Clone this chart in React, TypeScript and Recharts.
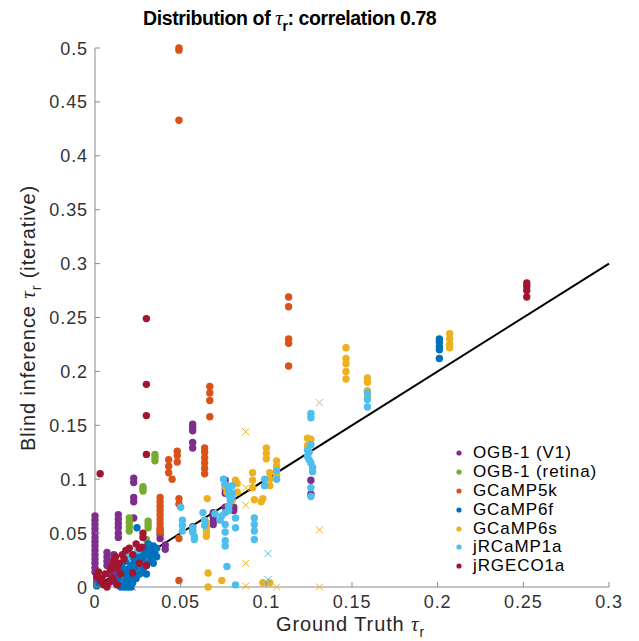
import { ScatterChart, Scatter, XAxis, YAxis, ReferenceLine, Legend } from 'recharts'

type Pt = [number, number]

const seriesNames = ['OGB-1 (V1)', 'OGB-1 (retina)', 'GCaMP5k', 'GCaMP6f', 'GCaMP6s', 'jRCaMP1a', 'jRGECO1a']
const seriesColors = ['#7E2F8E', '#77AC30', '#D95319', '#0072BD', '#EDB120', '#4DBEEE', '#A2142F']

const xTicks = [0, 0.05, 0.1, 0.15, 0.2, 0.25, 0.3]
const yTicks = [0, 0.05, 0.1, 0.15, 0.2, 0.25, 0.3, 0.35, 0.4, 0.45, 0.5]

const ogbV1: Pt[] = [
  [0, 0.066], [0, 0.062], [0, 0.058], [0, 0.054], [0, 0.05], [0, 0.046], [0, 0.042], [0, 0.038],
  [0, 0.034], [0, 0.03], [0, 0.026], [0, 0.022], [0, 0.018], [0, 0.014], [0.001, 0.004], [0.001, 0.008],
  [0.007, 0.032], [0.007, 0.028], [0.007, 0.024], [0.007, 0.02],
  [0.0136, 0.067], [0.0136, 0.063], [0.0136, 0.059], [0.0136, 0.055], [0.0136, 0.05], [0.0136, 0.046],
  [0.011, 0.03], [0.011, 0.026], [0.012, 0.022], [0.012, 0.016], [0.012, 0.01], [0.017, 0.028],
  [0.017, 0.024], [0.019, 0.032], [0.009, 0.012],
  [0.0226, 0.101], [0.0226, 0.097], [0.0226, 0.083], [0.0226, 0.079], [0.0226, 0.064],
  [0.038, 0.053], [0.038, 0.049], [0.038, 0.045], [0.041, 0.039], [0.041, 0.035],
  [0.057, 0.151], [0.057, 0.148], [0.057, 0.145], [0.057, 0.134], [0.057, 0.129], [0.057, 0.056], [0.057, 0.052],
  [0.069, 0.069], [0.069, 0.065], [0.069, 0.061], [0.069, 0.058],
  [0.076, 0.099], [0.076, 0.095], [0.076, 0.091], [0.076, 0.087], [0.076, 0.074],
  [0.081, 0.074], [0.081, 0.071], [0.126, 0.099], [0.126, 0.086],
]

const ogbRetina: Pt[] = [
  [0.035, 0.123], [0.035, 0.12], [0.035, 0.117], [0.028, 0.093], [0.028, 0.091], [0.028, 0.089],
  [0.02, 0.064], [0.02, 0.06], [0.02, 0.056], [0.02, 0.052], [0.031, 0.061], [0.031, 0.058],
  [0.031, 0.055], [0.03, 0.044], [0.031, 0.04],
]

const gcamp5k: Pt[] = [
  [0.049, 0.5], [0.049, 0.498], [0.049, 0.433],
  [0.113, 0.269], [0.113, 0.26], [0.113, 0.23], [0.113, 0.226], [0.113, 0.205],
  [0.067, 0.186], [0.067, 0.18], [0.067, 0.173], [0.067, 0.158],
  [0.064, 0.129], [0.064, 0.125], [0.064, 0.12], [0.064, 0.115], [0.064, 0.11], [0.064, 0.105],
  [0.048, 0.126], [0.048, 0.122], [0.048, 0.116], [0.043, 0.118], [0.043, 0.112], [0.043, 0.106], [0.045, 0.1],
  [0.038, 0.083], [0.038, 0.079], [0.038, 0.075], [0.038, 0.071], [0.038, 0.067], [0.038, 0.063],
  [0.038, 0.059], [0.038, 0.055], [0.038, 0.051],
  [0.049, 0.082], [0.049, 0.077], [0.049, 0.045], [0.049, 0.006],
]

const gcamp6f: Pt[] = [
  [0.201, 0.23], [0.201, 0.227], [0.201, 0.223], [0.201, 0.22], [0.201, 0.212],
  [0.012, 0.004], [0.014, 0.008], [0.016, 0.002], [0.017, 0.012], [0.018, 0.006], [0.019, 0.016],
  [0.02, 0.01], [0.021, 0.02], [0.022, 0.014], [0.023, 0.024], [0.024, 0.018], [0.025, 0.028],
  [0.026, 0.022], [0.027, 0.032], [0.028, 0.026], [0.029, 0.036], [0.03, 0.03], [0.031, 0.04],
  [0.032, 0.034], [0.033, 0.028], [0.034, 0.038], [0.035, 0.031], [0.036, 0.036], [0.016, 0.018],
  [0.018, 0.024], [0.02, 0.028], [0.022, 0.004], [0.024, 0.008], [0.026, 0.012], [0.028, 0.016],
  [0.03, 0.02], [0.032, 0.024], [0.019, 0.0], [0.017, 0.0], [0.001, 0.001], [0.002, 0.004],
  [0.0245, 0.055], [0.015, 0.0], [0.013, 0.002], [0.034, 0.022], [0.036, 0.028], [0.021, 0.0],
  [0.018, 0.014], [0.02, 0.004], [0.023, 0.01], [0.026, 0.03], [0.03, 0.012],
]
const gcamp6fMiss: Pt[] = [[0.0216, 0.0]]

const gcamp6s: Pt[] = [
  [0.0655, 0.082], [0.065, 0.059], [0.065, 0.055], [0.065, 0.051], [0.065, 0.047], [0.066, 0.013],
  [0.066, 0.0], [0.074, 0.006],
  [0.076, 0.093], [0.077, 0.088], [0.083, 0.096], [0.083, 0.088], [0.08, 0.08], [0.078, 0.075], [0.082, 0.099],
  [0.092, 0.106], [0.092, 0.099], [0.092, 0.092], [0.093, 0.081], [0.098, 0.082], [0.097, 0.079],
  [0.1, 0.129], [0.1, 0.124], [0.1, 0.119], [0.102, 0.106], [0.102, 0.1], [0.102, 0.094],
  [0.106, 0.117], [0.106, 0.112], [0.106, 0.104], [0.098, 0.004], [0.102, 0.004],
  [0.124, 0.138], [0.124, 0.131], [0.126, 0.137],
  [0.1465, 0.222], [0.1465, 0.212], [0.1465, 0.207], [0.1465, 0.2], [0.1465, 0.193],
  [0.159, 0.194], [0.159, 0.19], [0.159, 0.182], [0.159, 0.177],
  [0.207, 0.235], [0.207, 0.23], [0.207, 0.225], [0.207, 0.222],
]
const gcamp6sMiss: Pt[] = [
  [0.088, 0.144], [0.088, 0.092], [0.088, 0.076], [0.088, 0.022], [0.088, 0.001], [0.106, 0.0],
  [0.131, 0.171], [0.131, 0.053], [0.131, 0.0],
]

const jrcamp1a: Pt[] = [
  [0.05, 0.074], [0.051, 0.062], [0.051, 0.057], [0.051, 0.052], [0.057, 0.055], [0.057, 0.051],
  [0.058, 0.047], [0.058, 0.044], [0.063, 0.069], [0.064, 0.062], [0.064, 0.057], [0.07, 0.068],
  [0.073, 0.062], [0.074, 0.066], [0.076, 0.069], [0.076, 0.058], [0.076, 0.051], [0.076, 0.043],
  [0.076, 0.038], [0.075, 0.1], [0.076, 0.095], [0.078, 0.09], [0.078, 0.085], [0.079, 0.08],
  [0.078, 0.075], [0.078, 0.071], [0.08, 0.094], [0.08, 0.087], [0.08, 0.083],
  [0.082, 0.064], [0.082, 0.055], [0.077, 0.019], [0.082, 0.002],
  [0.093, 0.064], [0.093, 0.058], [0.093, 0.052], [0.093, 0.044],
  [0.099, 0.1], [0.099, 0.094], [0.106, 0.108], [0.106, 0.1],
  [0.126, 0.161], [0.126, 0.157], [0.126, 0.132], [0.125, 0.125], [0.124, 0.121], [0.125, 0.118],
  [0.126, 0.115], [0.127, 0.111], [0.127, 0.107], [0.126, 0.092], [0.126, 0.084], [0.124, 0.127],
  [0.159, 0.18], [0.159, 0.174], [0.159, 0.167],
  [0.019, 0.034], [0.019, 0.028], [0.025, 0.034],
]
const jrcamp1aMiss: Pt[] = [[0.101, 0.031], [0.101, 0.007]]

const jrgeco1a: Pt[] = [
  [0.03, 0.249], [0.03, 0.188], [0.03, 0.159], [0.03, 0.123], [0.003, 0.105],
  [0.252, 0.282], [0.252, 0.279], [0.252, 0.275], [0.252, 0.269],
  [0.001, 0.01], [0.002, 0.014], [0.004, 0.008], [0.006, 0.012], [0.008, 0.004], [0.009, 0.016],
  [0.01, 0.02], [0.011, 0.024], [0.012, 0.028], [0.013, 0.018], [0.014, 0.022], [0.015, 0.012],
  [0.016, 0.03], [0.017, 0.026], [0.018, 0.034], [0.02, 0.036], [0.022, 0.03], [0.024, 0.04],
  [0.026, 0.036], [0.028, 0.046], [0.028, 0.05], [0.0275, 0.037], [0.026, 0.022], [0.03, 0.02],
  [0.022, 0.013], [0.005, 0.002], [0.007, 0.0], [0.011, 0.006], [0.013, 0.002], [0.003, 0.006], [0.01, 0.008],
]

const allSeries = [ogbV1, ogbRetina, gcamp5k, gcamp6f, gcamp6s, jrcamp1a, jrgeco1a]
const misses: [number, Pt[]][] = [[3, gcamp6fMiss], [4, gcamp6sMiss], [5, jrcamp1aMiss]]

const toData = (pts: Pt[]) => pts.map(([x, y]) => ({ x, y }))

const axisGray = '#8a8a8a'
const tickFont = { fontFamily: 'Liberation Sans, Arial, sans-serif', fontSize: 18, letterSpacing: 0.9, fill: '#333' }

const XTick = (p: any) => (
  <g>
    <line x1={p.x} x2={p.x} y1={p.y} y2={p.y - 5} stroke={axisGray} />
    <text x={p.x} y={p.y + 21} textAnchor="middle" {...tickFont}>{p.payload.value}</text>
  </g>
)

const YTick = (p: any) => (
  <g>
    <line x1={p.x} x2={p.x + 5} y1={p.y} y2={p.y} stroke={axisGray} />
    <text x={p.x - 7} y={p.y + 6.5} textAnchor="end" {...tickFont}>{p.payload.value}</text>
  </g>
)

const dot = (color: string) => (p: any) => <circle cx={p.cx} cy={p.cy} r={3.7} fill={color} />
const cross = (color: string) => (p: any) => (
  <path d={`M${p.cx - 3.5},${p.cy - 3.5}L${p.cx + 3.5},${p.cy + 3.5}M${p.cx - 3.5},${p.cy + 3.5}L${p.cx + 3.5},${p.cy - 3.5}`}
    stroke={color} strokeWidth={1} fill="none" />
)

const LegendBox = () => (
  <div style={{ fontFamily: 'Liberation Sans, Arial, sans-serif', fontSize: 17, letterSpacing: 0.9, color: '#000' }}>
    {seriesNames.map((n, i) => (
      <div key={n} style={{ display: 'flex', alignItems: 'center', height: 18.8, whiteSpace: 'nowrap' }}>
        <svg width={14} height={10}><circle cx={7} cy={5} r={2.6} fill={seriesColors[i]} /></svg>
        <span style={{ marginLeft: 7 }}>{n}</span>
      </div>
    ))}
  </div>
)

const labelFont = { fontFamily: 'Liberation Sans, Arial, sans-serif', fontSize: 20, letterSpacing: 0.9, fill: '#262626' }
const tauFont = { fontFamily: 'Liberation Serif, serif', fontStyle: 'italic' as const }

export default function App() {
  return (
    <div>
      <style>{'body{margin:0}'}</style>
      <ScatterChart width={639} height={641} margin={{ top: 48, right: 30, left: 0, bottom: 0 }}>
        <XAxis type="number" dataKey="x" domain={[0, 0.3]} ticks={xTicks} height={54} tickSize={0} tickMargin={0}
          tick={<XTick />} axisLine={{ stroke: axisGray }} tickLine={false} interval={0} />
        <YAxis type="number" dataKey="y" domain={[0, 0.5]} ticks={yTicks} width={95} tickSize={0} tickMargin={0}
          tick={<YTick />} axisLine={{ stroke: axisGray }} tickLine={false} interval={0} />
        {allSeries.map((pts, i) => (
          <Scatter key={seriesNames[i]} name={seriesNames[i]} data={toData(pts)} fill={seriesColors[i]}
            shape={dot(seriesColors[i])} isAnimationActive={false} />
        ))}
        {misses.map(([i, pts]) => (
          <Scatter key={'miss' + i} data={toData(pts)} fill={seriesColors[i]} legendType="none"
            shape={cross(seriesColors[i])} isAnimationActive={false} />
        ))}
        <ReferenceLine segment={[{ x: 0, y: 0 }, { x: 0.3, y: 0.3 }]} stroke="#000" strokeWidth={2} />
        <Legend layout="vertical" align="center" verticalAlign="middle" content={<LegendBox />}
          wrapperStyle={{ left: 452, top: 444, width: 180 }} />
        <text x={143} y={25} fontFamily="Liberation Sans, Arial, sans-serif" fontSize={19.5} letterSpacing={-0.4}
          fontWeight="bold" fill="#000">
          Distribution of <tspan {...tauFont} fontSize={21} fontWeight="normal">τ</tspan>
          <tspan fontSize={14} dy={6}>r</tspan>
          <tspan dy={-6}>: correlation 0.78</tspan>
        </text>
        <text x={276} y={631} {...labelFont}>
          Ground Truth <tspan {...tauFont} fontSize={21}>τ</tspan>
          <tspan fontSize={14} dy={6}>r</tspan>
        </text>
        <text transform="translate(35,318) rotate(-90)" textAnchor="middle" {...labelFont}>
          Blind inference <tspan {...tauFont} fontSize={21}>τ</tspan>
          <tspan fontSize={14} dy={6}>r</tspan>
          <tspan dy={-6}> (iterative)</tspan>
        </text>
      </ScatterChart>
    </div>
  )
}
